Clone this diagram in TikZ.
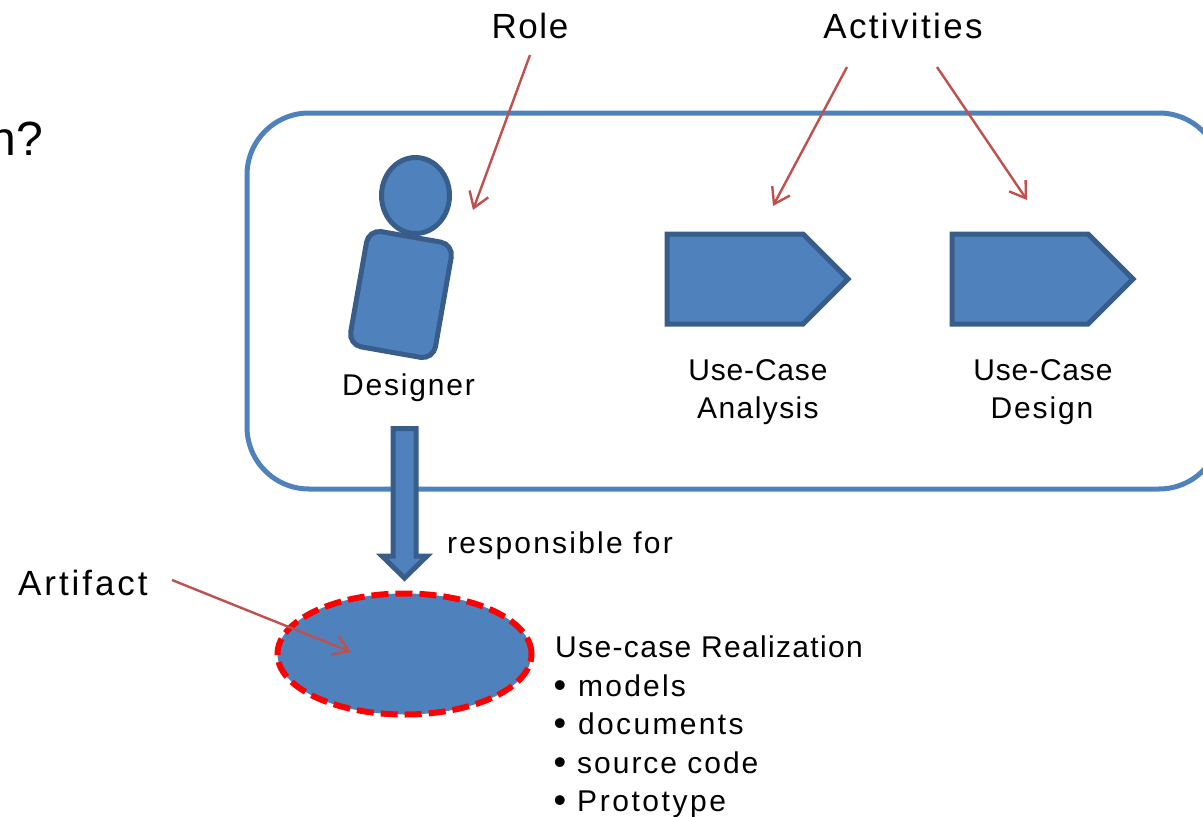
\documentclass[tikz,border=0pt]{standalone}
\usepackage{fontspec}
\setmainfont{Liberation Sans}
\usetikzlibrary{arrows.meta,shapes.geometric}
\definecolor{fillblue}{HTML}{4F81BD}
\definecolor{edgeblue}{HTML}{385D8A}
\definecolor{callout}{HTML}{C0504D}
\newcommand{\ls}[2]{{\addfontfeature{LetterSpace=#1}#2}}
\newcommand{\bul}[1]{\makebox[#1][l]{\raisebox{-1pt}{\fontsize{36}{36}\selectfont •}}}
\tikzset{
  x=1pt,y=-1pt,
  big/.style={font=\fontsize{35}{35}\selectfont,inner sep=0pt,text=black},
  small/.style={font=\fontsize{30}{30}\selectfont,inner sep=0pt,text=black},
  shapeblue/.style={draw=edgeblue,fill=fillblue,line width=5pt,line join=miter},
  note/.style={draw=callout,line width=2.4pt,-{Straight Barb[length=15pt,width=20pt,line width=2.4pt]}},
}
\begin{document}
\begin{tikzpicture}
\useasboundingbox (0,0) rectangle (1203,817);
\clip (0,0) rectangle (1203,817);
% texts
\node[big,anchor=base] (role) at (530,38) {\ls{4.4}{Role}};
\node[big,anchor=base] (act) at (903,38) {\ls{6.7}{Activities}};
\node[inner sep=0pt,font=\fontsize{48}{48}\selectfont,anchor=base east] (cut) at (43,155) {n?};
\node[big,anchor=base west] (artifact) at (18,595) {\ls{8.4}{Artifact}};
\node[small,anchor=base] (designer) at (408.5,395) {\ls{6}{Designer}};
\node[small,anchor=base] (uca1) at (758,380) {\ls{2.7}{Use-Case}};
\node[small,anchor=base] (uca2) at (758,418) {\ls{4.7}{Analysis}};
\node[small,anchor=base] (ucd1) at (1043,380) {\ls{2.7}{Use-Case}};
\node[small,anchor=base] (ucd2) at (1042,418) {\ls{6.3}{Design}};
\node[small,anchor=base west] (resp) at (447,553) {\ls{7.4}{responsible for}};
\node[small,anchor=base west] (real) at (555,657) {\ls{4.5}{Use-case Realization}};
\node[small,anchor=base west] (l1) at (553.5,696) {\bul{24.5pt}\ls{7.4}{models}};
\node[small,anchor=base west] (l2) at (553.5,734) {\bul{24.5pt}\ls{7.8}{documents}};
\node[small,anchor=base west] (l3) at (553.5,773) {\bul{23.5pt}\ls{6.6}{source code}};
\node[small,anchor=base west] (l4) at (553.5,811) {\bul{23.5pt}\ls{8.5}{Prototype}};
% container
\node[draw=fillblue,line width=5pt,rounded corners=62pt,minimum width=974pt,minimum height=376pt,inner sep=0pt] (box) at (734,301) {};
% person
\node[ellipse,shapeblue,minimum width=68pt,minimum height=76pt,inner sep=0pt] (head) at (415.5,195.5) {};
\node[shapeblue,rounded corners=13pt,rotate=-10,minimum width=86pt,minimum height=117pt,inner sep=0pt] (body) at (401,294.5) {};
% activities
\draw[shapeblue] (667,234) -- (803,234) -- (848,279) -- (803,324) -- (667,324) -- cycle;
\draw[shapeblue] (952,234) -- (1088,234) -- (1133,279) -- (1088,324) -- (952,324) -- cycle;
% block arrow
\draw[shapeblue] (393,428.5) -- (416,428.5) -- (416,556) -- (427,556) -- (404.5,578) -- (382,556) -- (393,556) -- cycle;
% artifact
\node[ellipse,fill=fillblue,draw=red,line width=6pt,dash pattern=on 17pt off 7pt,minimum width=254pt,minimum height=121pt,inner sep=0pt] (art) at (404.5,654) {};
% callouts
\coordinate (rs) at (530,55); \coordinate (re) at (473,210);
\coordinate (a1s) at (847,67); \coordinate (a1e) at (773,206);
\coordinate (a2s) at (937,67); \coordinate (a2e) at (1027,200);
\coordinate (as) at (172,580); \coordinate (ae) at (351,652);
\draw[note] (rs) -- (re);
\draw[note] (a1s) -- (a1e);
\draw[note] (a2s) -- (a2e);
\draw[note] (as) -- (ae);
\end{tikzpicture}
\end{document}
